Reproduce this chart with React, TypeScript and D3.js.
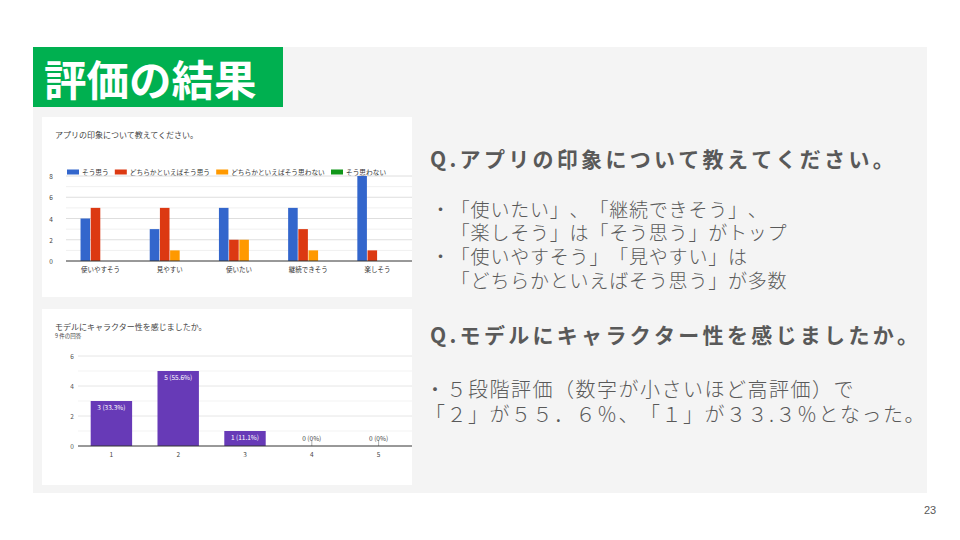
import React from "react";
import * as d3 from "d3";

// ---------- Chart 1 data ----------
const categories1 = ["使いやすそう", "見やすい", "使いたい", "継続できそう", "楽しそう"];
const seriesNames1 = ["そう思う", "どちらかといえばそう思う", "どちらかといえばそう思わない", "そう思わない"];
const seriesColors1 = ["#3366cc", "#dc3912", "#ff9900", "#109618"];
const agree = [4, 3, 5, 5, 8];
const ratherAgree = [5, 5, 2, 3, 1];
const ratherDisagree = [0, 1, 2, 1, 0];
const disagree = [0, 0, 0, 0, 0];
const yTicks1 = [0, 2, 4, 6, 8];
const yMinor1 = [1, 3, 5, 7];

// ---------- Chart 2 data ----------
const categories2 = ["1", "2", "3", "4", "5"];
const counts2 = [3, 5, 1, 0, 0];
const yTicks2 = [0, 2, 4, 6];
const yMinor2 = [1, 3, 5];

// ---------- Texts ----------
const slideTitle = "評価の結果";
const q1 = "Q.アプリの印象について教えてください。";
const q1Lines = [
  "・「使いたい」、「継続できそう」、",
  "　「楽しそう」は「そう思う」がトップ",
  "・「使いやすそう」「見やすい」は",
  "　「どちらかといえばそう思う」が多数",
];
const q2 = "Q.モデルにキャラクター性を感じましたか。";
const q2Lines = ["・５段階評価（数字が小さいほど高評価）で", "「２」が５５．６％、「１」が３３.３％となった。"];
const chart1Title = "アプリの印象について教えてください。";
const chart2Title = "モデルにキャラクター性を感じましたか。";
const chart2Sub = "9 件の回答";
const pageNum = "23";

const FONT = "'Noto Sans CJK JP', 'Noto Sans', sans-serif";
const noTrim: React.CSSProperties = {
  fontFeatureSettings: '"chws" 0, "halt" 0, "palt" 0',
  // @ts-ignore
  textSpacingTrim: "space-all",
  fontKerning: "none",
};

function Chart1() {
  const series = [agree, ratherAgree, ratherDisagree, disagree];
  const x0 = d3.scaleBand<string>().domain(categories1).range([66, 412]).paddingInner(0.42).paddingOuter(0.21);
  const x1 = d3.scaleBand<number>().domain(d3.range(series.length)).range([0, x0.bandwidth()]).paddingInner(0.06);
  const y = d3.scaleLinear().domain([0, 8]).range([261, 176]);
  const fs = 6.7;
  let lx = 67;
  const legend = seriesNames1.map((n, i) => {
    const item = { x: lx, name: n, color: seriesColors1[i] };
    lx += 12 + 3 + n.length * fs + 6;
    return item;
  });
  return (
    <g>
      <rect x={42} y={117} width={370} height={180} fill="#ffffff" />
      <text x={55} y={134} fontSize={8} fill="#444" dominantBaseline="central" fontFamily={FONT}>{chart1Title}</text>
      {legend.map((l, i) => (
        <g key={i}>
          <rect x={l.x} y={169.5} width={12} height={5} fill={l.color} />
          <text x={l.x + 15} y={172} fontSize={fs} fill="#333" dominantBaseline="central" fontFamily={FONT}>{l.name}</text>
        </g>
      ))}
      {yMinor1.map((t) => (
        <line key={"m" + t} x1={66} x2={412} y1={y(t)} y2={y(t)} stroke="#f0f0f0" strokeWidth={1} />
      ))}
      {yTicks1.map((t) => (
        <g key={t}>
          {t > 0 && <line x1={66} x2={412} y1={y(t)} y2={y(t)} stroke="#dedede" strokeWidth={1} />}
          <text x={51} y={y(t)} fontSize={6.5} fill="#444" textAnchor="middle" dominantBaseline="central" fontFamily={FONT}>{t}</text>
        </g>
      ))}
      {categories1.map((c, ci) => (
        <g key={c} transform={`translate(${x0(c)},0)`}>
          {series.map((s, si) =>
            s[ci] > 0 ? (
              <rect key={si} x={x1(si)} y={y(s[ci])} width={x1.bandwidth()} height={y(0) - y(s[ci])} fill={seriesColors1[si]} />
            ) : null
          )}
        </g>
      ))}
      <line x1={66} x2={412} y1={y(0)} y2={y(0)} stroke="#333" strokeWidth={1} />
      {categories1.map((c) => (
        <text key={c} x={(x0(c) as number) + x0.bandwidth() / 2} y={268.5} fontSize={6.5} fill="#333" textAnchor="middle" dominantBaseline="central" fontFamily={FONT}>{c}</text>
      ))}
    </g>
  );
}

function Chart2() {
  const total = d3.sum(counts2);
  const x = d3.scaleBand<string>().domain(categories2).range([78, 412]).paddingInner(0.38).paddingOuter(0.19);
  const y = d3.scaleLinear().domain([0, 6]).range([446, 356]);
  const label = (v: number) => `${v} (${v === 0 ? "0" : ((v / total) * 100).toFixed(1)}%)`;
  return (
    <g>
      <rect x={42} y={309} width={370} height={176} fill="#ffffff" />
      <text x={55} y={326} fontSize={8} fill="#444" dominantBaseline="central" fontFamily={FONT}>{chart2Title}</text>
      <text x={55} y={336} fontSize={5.5} fill="#444" dominantBaseline="central" fontFamily={FONT}>{chart2Sub}</text>
      {yMinor2.map((t) => (
        <line key={"m" + t} x1={78} x2={412} y1={y(t)} y2={y(t)} stroke="#f3f3f3" strokeWidth={1} />
      ))}
      {yTicks2.map((t) => (
        <g key={t}>
          {t > 0 && <line x1={78} x2={412} y1={y(t)} y2={y(t)} stroke="#e6e6e6" strokeWidth={1} />}
          <text x={72} y={y(t)} fontSize={6.5} fill="#555" textAnchor="middle" dominantBaseline="central" fontFamily={FONT}>{t}</text>
        </g>
      ))}
      {categories2.map((c, i) => {
        const v = counts2[i];
        const cx = (x(c) as number) + x.bandwidth() / 2;
        return (
          <g key={c}>
            {v > 0 ? (
              <>
                <rect x={x(c)} y={y(v)} width={x.bandwidth()} height={y(0) - y(v)} fill="#673ab7" />
                <text x={cx} y={y(v) + 6} fontSize={6.5} fill="#ffffff" textAnchor="middle" dominantBaseline="central" fontFamily={FONT}>{label(v)}</text>
              </>
            ) : (
              <>
                <line x1={cx} x2={cx} y1={y(0) - 6} y2={y(0)} stroke="#999" strokeWidth={0.8} />
                <text x={cx} y={y(0) - 8.5} fontSize={6.5} fill="#444" textAnchor="middle" dominantBaseline="central" fontFamily={FONT}>{label(v)}</text>
              </>
            )}
            <text x={cx} y={454} fontSize={6.5} fill="#444" textAnchor="middle" dominantBaseline="central" fontFamily={FONT}>{c}</text>
          </g>
        );
      })}
      <line x1={78} x2={412} y1={y(0)} y2={y(0)} stroke="#333" strokeWidth={1} />
    </g>
  );
}

export default function App() {
  return (
    <svg width={960} height={540} style={{ position: "absolute", left: 0, top: 0, background: "#ffffff" }} fontFamily={FONT}>
      <rect x={0} y={0} width={960} height={540} fill="#ffffff" />
      <rect x={33} y={47} width={894} height={446} fill="#f4f4f4" />
      <rect x={33} y={47} width={250} height={60} fill="#00b050" />
      <text x={44} y={77} fontSize={42.5} fontWeight={700} fill="#ffffff" dominantBaseline="central">{slideTitle}</text>
      <Chart1 />
      <Chart2 />
      <text x={430} y={158} fontSize={21} fontWeight={700} fill="#595959" letterSpacing={3.3} dominantBaseline="central" style={noTrim}>{q1}</text>
      <text fontSize={19} fontWeight={300} fill="#595959" letterSpacing={0.8} dominantBaseline="central" style={noTrim}>
        {q1Lines.map((l, i) => (
          <tspan key={i} x={431} y={207.5 + i * 23.7}>{l}</tspan>
        ))}
      </text>
      <text x={430} y={334} fontSize={21} fontWeight={700} fill="#595959" letterSpacing={3.3} dominantBaseline="central" style={noTrim}>{q2}</text>
      <text fontSize={20} fontWeight={300} fill="#595959" letterSpacing={1.5} dominantBaseline="central" style={noTrim}>
        {q2Lines.map((l, i) => (
          <tspan key={i} x={425} y={388 + i * 24.5}>{l}</tspan>
        ))}
      </text>
      <text x={930} y={510} fontSize={11} fill="#595959" textAnchor="middle" dominantBaseline="central" fontFamily="'Liberation Sans', Arial, sans-serif">{pageNum}</text>
    </svg>
  );
}
